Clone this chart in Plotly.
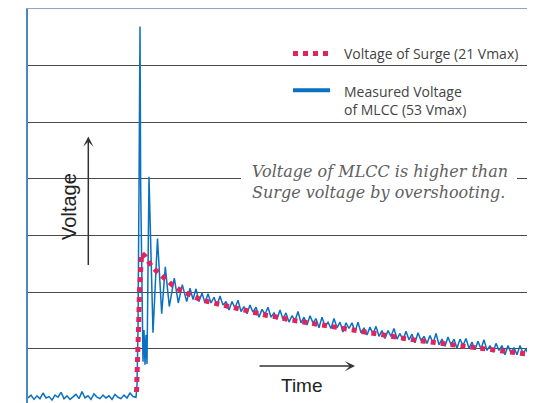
import plotly.graph_objects as go

# ---- Surge voltage (red dotted), time in arbitrary units, volts ----
surge_time = [108.5, 109.5, 110.5, 111.5, 112.5, 113.7, 117.7, 123, 130, 137, 145, 153,
              162, 171, 180, 190, 200, 209, 219, 229, 238, 248, 257, 267, 277, 287, 296,
              306, 316, 325, 335, 345, 355, 364, 374, 384, 394, 404, 414, 423, 433, 443,
              453, 463, 472, 482, 492, 502, 507]
surge_volts = [1.34, 4.45, 10.10, 15.75, 19.70, 20.97, 20.41, 19.18, 18.19, 17.30, 16.36, 15.65,
               15.04, 14.48, 14.10, 13.77, 13.35, 13.02, 12.68, 12.46, 12.18, 11.94, 11.65, 11.41,
               11.19, 10.95, 10.71, 10.48, 10.28, 10.10, 9.77, 9.53, 9.29, 9.11, 8.93, 8.73,
               8.55, 8.36, 8.16, 8.02, 7.84, 7.70, 7.51, 7.32, 7.13, 6.95, 6.81, 6.67, 6.57]

# ---- Measured MLCC voltage (blue) ----
baseline_time = [0, 3, 6, 9, 12, 15, 18, 21, 24, 27, 30, 33, 36, 39, 42, 45, 48, 51, 54, 57,
                 60, 63, 66, 69, 72, 75, 78, 81, 84, 87, 90, 93, 96, 99, 102, 105, 108]
baseline_volts = [0.5, 0.9, 0.3, 0.8, 0.4, 1.2, 0.5, 0.7, 0.2, 0.9, 0.6, 1.3, 0.4, 0.8, 0.3,
                  0.7, 1.0, 0.4, 1.4, 0.5, 0.8, 0.3, 1.1, 0.6, 0.4, 0.9, 0.5, 0.8, 0.3, 1.0,
                  0.6, 0.4, 0.9, 0.5, 1.2, 0.7, 0.6]

transient_time = [109, 110, 111, 112, 112.7, 113.5, 115, 116, 117, 118, 119, 121, 125, 129.5,
                  133.7, 137.3, 141.3, 146.3, 150.3, 154.3, 158.7]
transient_volts = [2.3, 10.1, 30.0, 52.9, 30.0, 21.4, 5.6, 10.1, 5.2, 9.4, 5.3, 31.7, 9.7, 23.0,
                   12.4, 19.0, 13.4, 17.4, 13.9, 16.5, 14.1]

decay_time = [162, 165, 168, 171, 174, 177, 180, 183, 186, 189,
              192, 195, 198, 201, 204, 207, 210, 213, 216, 219,
              222, 225, 228, 231, 234, 237, 240, 243, 246, 249,
              252, 255, 258, 261, 264, 267, 270, 273, 276, 279,
              282, 285, 288, 291, 294, 297, 300, 303, 306, 309,
              312, 315, 318, 321, 324, 327, 330, 333, 336, 339,
              342, 345, 348, 351, 354, 357, 360, 363, 366, 369,
              372, 375, 378, 381, 384, 387, 390, 393, 396, 399,
              402, 405, 408, 411, 414, 417, 420, 423, 426, 429,
              432, 435, 438, 441, 444, 447, 450, 453, 456, 459,
              462, 465, 468, 471, 474, 477, 480, 483, 486, 489,
              492, 495, 498, 501, 504, 507]
decay_volts = [16.0, 14.4, 15.9, 14.1, 15.3, 13.9, 15.2, 13.9, 14.7, 13.5,
               14.9, 13.6, 14.1, 12.9, 14.1, 13.2, 14.3, 12.7, 13.4, 12.4,
               13.6, 12.6, 13.3, 11.9, 13.0, 12.3, 13.3, 11.9, 12.5, 11.6,
               12.9, 11.6, 12.5, 11.2, 12.1, 11.4, 12.7, 11.1, 11.9, 10.8,
               12.1, 11.1, 11.7, 10.4, 11.9, 10.6, 11.2, 10.3, 11.7, 10.4,
               11.2, 9.8, 11.1, 10.3, 11.1, 9.8, 11.2, 9.7, 10.4, 9.4,
               10.5, 9.5, 10.6, 9.2, 10.0, 8.9, 10.0, 9.2, 10.3, 8.8,
               9.6, 8.6, 9.9, 8.7, 9.5, 8.3, 9.7, 8.6, 9.2, 8.2,
               9.3, 8.2, 9.6, 8.0, 8.8, 7.8, 9.1, 8.0, 8.8, 7.5,
               8.8, 7.9, 8.9, 7.5, 8.4, 7.3, 8.5, 7.4, 8.7, 7.2,
               7.9, 7.0, 8.2, 7.2, 7.9, 6.6, 7.9, 6.8, 7.6, 6.6,
               7.9, 6.8, 7.4, 6.5, 7.4, 6.6]

measured_time = baseline_time + transient_time + decay_time
measured_volts = baseline_volts + transient_volts + decay_volts

surge_name = "Voltage of Surge (21 Vmax)"
measured_name = "Measured Voltage<br>of MLCC (53 Vmax)"
note_text = "Voltage of MLCC is higher than<br>Surge voltage by overshooting."

BLUE = "#0a70c0"
RED = "#e0245e"

fig = go.Figure()
fig.add_trace(go.Scatter(x=measured_time, y=measured_volts, mode="lines",
                         line=dict(color=BLUE, width=1.5), showlegend=False, hoverinfo="skip"))
fig.add_trace(go.Scatter(x=surge_time, y=surge_volts, mode="lines",
                         line=dict(color=RED, width=5, dash="dot"), showlegend=False, hoverinfo="skip"))

# legend samples
fig.add_shape(type="line", x0=265, x1=300, y0=49.1, y1=49.1, line=dict(color=RED, width=5, dash="dot"))
fig.add_shape(type="line", x0=265, x1=302, y0=43.9, y1=43.9, line=dict(color=BLUE, width=4))
fig.add_annotation(x=314, y=49.1, text=surge_name, showarrow=False, xanchor="left", yanchor="middle",
                   font=dict(family="Open Sans", size=14, color="#444"))
fig.add_annotation(x=314, y=42.5, text=measured_name, showarrow=False, xanchor="left", yanchor="middle",
                   align="left", font=dict(family="Open Sans", size=14, color="#444"))

# white gap in gridline behind note
fig.add_shape(type="rect", x0=213, x1=489, y0=30.9, y1=31.9, line=dict(width=0), fillcolor="white")
fig.add_annotation(x=222, y=30.95, text=note_text, showarrow=False, xanchor="left", yanchor="middle",
                   align="left", font=dict(family="DejaVu Serif", size=16, color="#606060", style="italic"))

# axis labels with arrows
fig.add_annotation(x=40.3, y=27.5, text="Voltage", showarrow=False, textangle=-90,
                   font=dict(family="Liberation Sans", size=20, color="#222"))
fig.add_annotation(x=60.3, y=37.4, ax=0, ay=130, text="", showarrow=True, arrowhead=3,
                   arrowwidth=1.5, arrowsize=1.15, arrowcolor="#333")
fig.add_annotation(x=273.7, y=2.33, text="Time", showarrow=False,
                   font=dict(family="Liberation Sans", size=19, color="#222"))
fig.add_annotation(x=327, y=5.0, ax=-97, ay=0, text="", showarrow=True, arrowhead=3,
                   arrowwidth=1.5, arrowsize=1.15, arrowcolor="#333")

# the page body adds an 8px offset, so margins are shifted by 8px
fig.update_layout(
    width=527, height=395,
    margin=dict(l=20, r=0, t=1, b=0, pad=0),
    paper_bgcolor="white", plot_bgcolor="white",
    xaxis=dict(range=[0, 507], showgrid=False, zeroline=False, showticklabels=False, ticks="",
               side="top", showline=True, linecolor="#8aa4cc", linewidth=1.2),
    yaxis=dict(range=[-0.21, 55.38], tick0=7.42, dtick=8, showgrid=True, gridcolor="#4a4a4a",
               gridwidth=1.2, zeroline=False, showticklabels=False, ticks="",
               showline=True, linecolor="#4a86c8", linewidth=1.5),
)

fig.write_html("out.html")
